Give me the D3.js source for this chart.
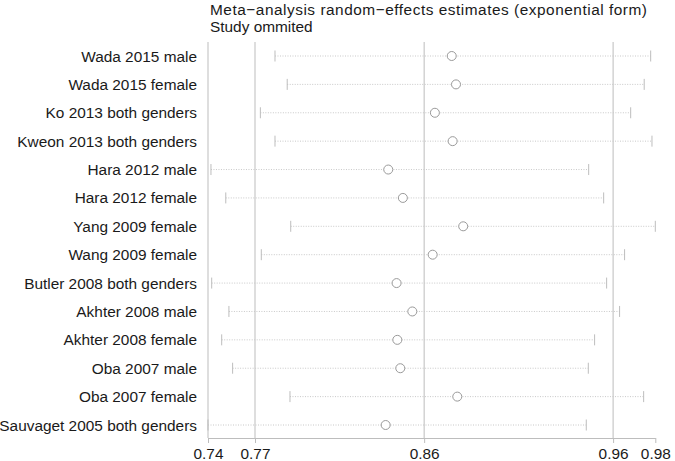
<!DOCTYPE html>
<html>
<head>
<meta charset="utf-8">
<script src="https://cdn.jsdelivr.net/npm/d3@7"></script>
<style>
  body { margin: 0; background: #fff; }
  svg { font-family: "Liberation Sans", Arial, Helvetica, sans-serif; }
</style>
</head>
<body>
<svg id="chart" width="675" height="461"></svg>
<script>
const studies = [
    'Wada 2015 male', 'Wada 2015 female', 'Ko 2013 both genders', 'Kweon 2013 both genders',
    'Hara 2012 male', 'Hara 2012 female', 'Yang 2009 female', 'Wang 2009 female',
    'Butler 2008 both genders', 'Akhter 2008 male', 'Akhter 2008 female', 'Oba 2007 male',
    'Oba 2007 female', 'Sauvaget 2005 both genders'
];
const estimate = [0.8717, 0.8740, 0.8626, 0.8722, 0.8374, 0.8453, 0.8779, 0.8614, 0.8419, 0.8504, 0.8423, 0.8439, 0.8747, 0.8360];
const lower    = [0.7762, 0.7828, 0.7683, 0.7762, 0.7416, 0.7496, 0.7847, 0.7688, 0.7420, 0.7513, 0.7474, 0.7533, 0.7843, 0.7400];
const upper    = [0.9792, 0.9757, 0.9684, 0.9799, 0.9457, 0.9538, 0.9817, 0.9651, 0.9554, 0.9624, 0.9489, 0.9455, 0.9754, 0.9444];

// min lower, overall lower, overall estimate, overall upper, max upper
const tickValues = [0.7400, 0.7654, 0.8568, 0.9589, 0.9817];
const refLines = [0.7400, 0.7654, 0.8568, 0.9589];

const svg = d3.select('#chart');
const fontSize = 15.4;

const x = d3.scaleLinear().domain([0.74, 0.9817]).range([208, 655.3]);
const y = d3.scalePoint().domain(studies).range([56, 425]);

const plotTop = 42, axisY = 438;

svg.append('g').selectAll('line')
    .data(refLines)
    .join('line')
    .attr('x1', d => x(d)).attr('x2', d => x(d))
    .attr('y1', plotTop).attr('y2', axisY)
    .attr('stroke', '#bdbdbd')
    .attr('stroke-width', 1);

const rows = studies.map((s, i) => ({study: s, est: estimate[i], lo: lower[i], hi: upper[i]}));

const g = svg.append('g');

g.selectAll('.ci')
    .data(rows)
    .join('line')
    .attr('class', 'ci')
    .attr('x1', d => x(d.lo)).attr('x2', d => x(d.hi))
    .attr('y1', d => y(d.study)).attr('y2', d => y(d.study))
    .attr('stroke', '#c8c8c8')
    .attr('stroke-width', 1)
    .attr('stroke-dasharray', '1,1.5');

g.selectAll('.capL')
    .data(rows)
    .join('line')
    .attr('class', 'capL')
    .attr('x1', d => x(d.lo)).attr('x2', d => x(d.lo))
    .attr('y1', d => y(d.study) - 5.5).attr('y2', d => y(d.study) + 5.5)
    .attr('stroke', '#bdbdbd');

g.selectAll('.capR')
    .data(rows)
    .join('line')
    .attr('class', 'capR')
    .attr('x1', d => x(d.hi)).attr('x2', d => x(d.hi))
    .attr('y1', d => y(d.study) - 5.5).attr('y2', d => y(d.study) + 5.5)
    .attr('stroke', '#bdbdbd');

g.selectAll('circle')
    .data(rows)
    .join('circle')
    .attr('cx', d => x(d.est))
    .attr('cy', d => y(d.study))
    .attr('r', 4.5)
    .attr('fill', '#fff')
    .attr('stroke', '#9a9a9a')
    .attr('stroke-width', 1);

// study labels
svg.append('g').selectAll('text')
    .data(studies)
    .join('text')
    .attr('x', 197)
    .attr('y', d => y(d))
    .attr('dy', '0.36em')
    .attr('text-anchor', 'end')
    .attr('font-size', fontSize)
    .attr('fill', '#1a1a1a')
    .text(d => d);

// x axis
const axis = svg.append('g')
    .attr('transform', `translate(0,${axisY})`)
    .call(d3.axisBottom(x).tickValues(tickValues).tickFormat(d3.format('.2f')).tickSize(5).tickSizeOuter(0));
axis.select('.domain').attr('stroke', '#bdbdbd');
axis.selectAll('.tick line').attr('stroke', '#bdbdbd');
axis.selectAll('.tick text').attr('font-size', fontSize).attr('fill', '#1a1a1a').attr('dy', '0.85em')
    .attr('font-family', '"Liberation Sans", Arial, sans-serif');

// titles
svg.append('text').attr('x', 210).attr('y', 15).attr('font-size', fontSize).attr('fill', '#1a1a1a')
    .attr('textLength', 437).attr('lengthAdjust', 'spacing')
    .text('Meta\u2212analysis random\u2212effects estimates (exponential form)');
svg.append('text').attr('x', 210).attr('y', 32).attr('font-size', fontSize).attr('fill', '#1a1a1a')
    .text('Study ommited');
</script>
</body>
</html>
